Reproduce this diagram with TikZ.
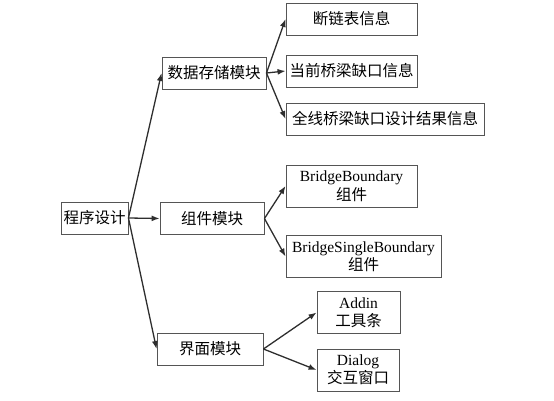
\documentclass[tikz,border=0pt]{standalone}
\usepackage{fontspec}
\setmainfont{Liberation Serif}
\newfontfamily\cjk{Noto Sans CJK SC}
\usetikzlibrary{arrows.meta}
\definecolor{TreeLine}{HTML}{555555}
\definecolor{TreeArrow}{HTML}{2E2E2E}

\begin{document}
\begin{tikzpicture}[x=1pt,y=-1pt,
  box/.style={rectangle,draw=TreeLine,fill=white,line width=0.9pt,align=center,inner sep=0pt,minimum height=32pt,font=\cjk\fontsize{15.5}{18.5}\selectfont},
  twoline/.style={box,minimum height=42pt},
  arrow/.style={-{Latex[length=8pt,width=6pt]},draw=TreeArrow,line width=1.3pt}
]
\useasboundingbox (0,0) rectangle (554,401);
% root and modules
\node[box,minimum width=67pt] (root) at (94.5,218) {程序设计};
\node[box,minimum width=104pt] (data) at (214,73) {数据存储模块};
\node[box,minimum width=104pt] (comp) at (212,218.5) {组件模块};
\node[box,minimum width=106pt] (ui) at (210,349) {界面模块};
% data storage items
\node[box,minimum width=131pt] (brk) at (351.5,19) {断链表信息};
\node[box,minimum width=131pt] (cur) at (351.5,71) {当前桥梁缺口信息};
\node[box,minimum width=198pt] (res) at (385,119) {全线桥梁缺口设计结果信息};
% components
\node[twoline,minimum width=131pt] (bb) at (351.5,186) {{\rmfamily BridgeBoundary}\\组件};
\node[twoline,minimum width=155pt] (bsb) at (363.5,256.5) {{\rmfamily BridgeSingleBoundary}\\组件};
% interface
\node[twoline,minimum width=83pt] (addin) at (358.5,312.5) {{\rmfamily Addin}\\工具条};
\node[twoline,minimum width=82pt] (dlg) at (358,370) {{\rmfamily Dialog}\\交互窗口};
\draw[arrow] (root.east) -- (data.west);
\draw[arrow] (root.east) -- (comp.west);
\draw[arrow] (root.east) -- (ui.west);
\draw[arrow] (data.east) -- (brk.west);
\draw[arrow] (data.east) -- (cur.west);
\draw[arrow] (data.east) -- (res.west);
\draw[arrow] (comp.east) -- (bb.west);
\draw[arrow] (comp.east) -- (bsb.west);
\draw[arrow] (ui.east) -- (addin.west);
\draw[arrow] (ui.east) -- (dlg.west);
\end{tikzpicture}
\end{document}
